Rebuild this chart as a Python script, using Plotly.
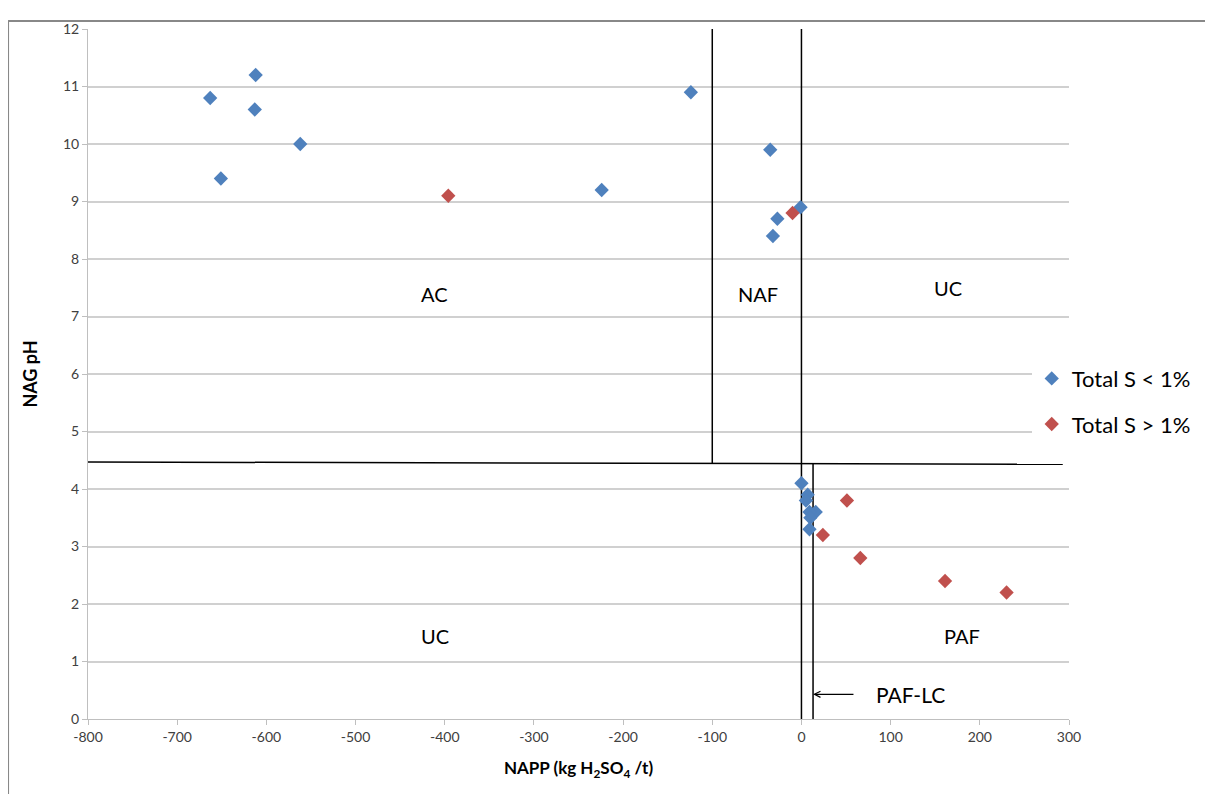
import plotly.graph_objects as go

# Data
low_s_napp = [-663, -612, -613, -562, -651, -224, -124, -35, -1, -27, -32,
              0, 7, 5, 16, 9, 10, 9]
low_s_ph = [10.8, 11.2, 10.6, 10.0, 9.4, 9.2, 10.9, 9.9, 8.9, 8.7, 8.4,
            4.1, 3.9, 3.8, 3.6, 3.6, 3.5, 3.3]
high_s_napp = [-396, -10, 51, 24, 66, 161, 230]
high_s_ph = [9.1, 8.8, 3.8, 3.2, 2.8, 2.4, 2.2]

# Classification boundary lines
hline_x = [-800, 293]
hline_y = [4.47, 4.43]
naf_x = [-100, -100]
naf_y = [4.45, 12]
zero_x = [0, 0]
zero_y = [0, 12]
paflc_x = [13, 13]
paflc_y = [0, 4.44]

region_labels = ["AC", "NAF", "UC", "UC", "PAF"]
region_x = [-411, -49, 164, -411, 180]
region_y = [7.4, 7.4, 7.5, 1.45, 1.45]

x_ticks = list(range(-800, 301, 100))
x_tick_text = [str(v) for v in x_ticks]
y_ticks = list(range(0, 13))

font_family = "Lato, 'Open Sans', sans-serif"
blue = "#4F81BD"
red = "#C0504D"

fig = go.Figure()

for lx, ly in [(hline_x, hline_y), (naf_x, naf_y), (zero_x, zero_y), (paflc_x, paflc_y)]:
    fig.add_trace(go.Scatter(x=lx, y=ly, mode="lines",
                             line=dict(color="black", width=1.5),
                             showlegend=False, hoverinfo="skip"))

fig.add_trace(go.Scatter(x=low_s_napp, y=low_s_ph, mode="markers",
                         name="Total S < 1%", legendgroup="low",
                         marker=dict(symbol="diamond", size=11, color=blue)))
fig.add_trace(go.Scatter(x=high_s_napp, y=high_s_ph, mode="markers",
                         name="Total S > 1%", legendgroup="high",
                         marker=dict(symbol="diamond", size=11, color=red)))

for t, x, y in zip(region_labels, region_x, region_y):
    fig.add_annotation(x=x, y=y, text=t, showarrow=False,
                       font=dict(size=20, color="black", family=font_family))

fig.add_annotation(x=13, y=0.43, ax=60, ay=0.43, axref="x", ayref="y",
                   xref="x", yref="y", text="", showarrow=True,
                   arrowhead=5, arrowsize=1, arrowwidth=1.2, arrowcolor="black")
fig.add_annotation(x=122, y=0.43, text="PAF-LC", showarrow=False,
                   font=dict(size=21, color="black", family=font_family))

# Outer frame (top and left)
fig.add_shape(type="line", xref="paper", yref="paper", x0=-0.0815, x1=1.2,
              y0=1.0115, y1=1.0115, line=dict(color="#888888", width=2))
fig.add_shape(type="line", xref="paper", yref="paper", x0=-0.0815, x1=-0.0815,
              y0=-0.2, y1=1.0115, line=dict(color="#888888", width=2))

fig.update_layout(
    width=1205, height=786,
    margin=dict(l=80, r=144, t=15, b=75),
    paper_bgcolor="white", plot_bgcolor="white",
    font=dict(family=font_family, color="#404040", size=14),
    legend=dict(x=0.962, y=0.46, xanchor="left", yanchor="middle",
                font=dict(size=22, color="black"), itemwidth=30,
                traceorder="grouped", tracegroupgap=14),
    xaxis=dict(range=[-800, 300], tickvals=x_ticks, ticktext=x_tick_text,
               showgrid=False,
               zeroline=False, showline=True, linecolor="#BFBFBF", linewidth=1,
               ticks="outside", ticklen=5, tickcolor="#BFBFBF",
               tickfont=dict(size=14, color="#404040"),
               title=dict(text="<b>NAPP (kg H<sub>2</sub>SO<sub>4</sub> /t)</b>",
                          font=dict(size=17, color="black"), standoff=18)),
    yaxis=dict(range=[0, 12], tickvals=y_ticks, showgrid=True,
               gridcolor="#D0D0D0", gridwidth=1.5,
               zeroline=False, showline=True, linecolor="#BFBFBF", linewidth=1,
               ticks="outside", ticklen=5, tickcolor="#BFBFBF",
               tickfont=dict(size=14, color="#404040"),
               title=dict(text="<b>NAG pH</b>", font=dict(size=18, color="black"),
                          standoff=20)),
    showlegend=True,
)

fig.write_html("out.html")
